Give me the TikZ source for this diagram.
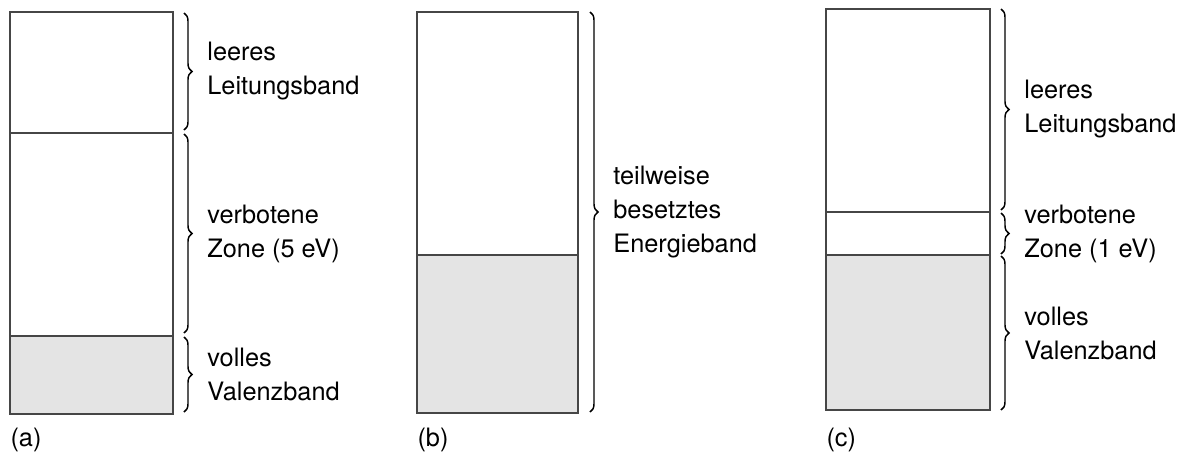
\documentclass[tikz,border=0pt]{standalone}
\usepackage{fontspec}
\setmainfont{TeX Gyre Heros}
\usetikzlibrary{decorations.pathreplacing,positioning}
\tikzset{
	band/.style={draw={rgb, 255:red, 70; green, 70; blue, 70 }, line width=0.9pt},
	bandfill/.style={fill={rgb, 255:red, 228; green, 228; blue, 228 }},
	bandbrace/.style={decorate, decoration={brace, amplitude=6pt}, line width=1.1pt},
	bandtext/.style={inner sep=0pt, align=left, font=\fontsize{19}{25.5}\selectfont},
	partname/.style={inner sep=0pt, anchor=west, font=\fontsize{19}{25.5}\selectfont}}
\tikzset{every picture/.style={line width=0.75pt}}

\begin{document}
\begin{tikzpicture}[x=0.75pt,y=0.75pt,yscale=-1,xscale=1]
	\useasboundingbox (0,0) rectangle (1186,454);

	%Shape: Band diagram (a)
	\fill [bandfill] (10,336) rectangle (173,414) ;
	\draw [band] (10,12) rectangle (173,414) ;
	\draw [band] (10,133) -- (173,133) ;
	\draw [band] (10,336) -- (173,336) ;
	%Braces (a)
	\draw [bandbrace] (184,13) -- (184,130) node [midway, bandtext, right=17pt] (a-cb) {leeres\\Leitungsband};
	\draw [bandbrace] (184,134) -- (184,333) node [midway, bandtext, right=17pt] (a-gap) {verbotene\\Zone (5 eV)};
	\draw [bandbrace] (184,337) -- (184,412) node [midway, bandtext, right=17pt] (a-vb) {volles\\Valenzband};

	%Shape: Band diagram (b)
	\fill [bandfill] (417,255) rectangle (578,413) ;
	\draw [band] (417,12) rectangle (578,413) ;
	\draw [band] (417,255) -- (578,255) ;
	%Brace (b)
	\draw [bandbrace] (590,12) -- (590,412) node [midway, bandtext, right=17pt] (b-band) {teilweise\\besetztes\\Energieband};

	%Shape: Band diagram (c)
	\fill [bandfill] (826,255) rectangle (990,410) ;
	\draw [band] (826,9) rectangle (990,410) ;
	\draw [band] (826,212) -- (990,212) ;
	\draw [band] (826,255) -- (990,255) ;
	%Braces (c)
	\draw [bandbrace] (1001,9) -- (1001,210) node [midway, bandtext, right=17pt] (c-cb) {leeres\\Leitungsband};
	\draw [bandbrace] (1001,213) -- (1001,254) node [midway, bandtext, right=17pt] (c-gap) {verbotene\\Zone (1 eV)};
	\draw [bandbrace] (1001,256) -- (1001,410) node [midway, bandtext, right=17pt] (c-vb) {volles\\Valenzband};

	% Text Node
	\node [partname] (a-name) at (10,440) {(a)};
	% Text Node
	\node [partname] (b-name) at (417,440) {(b)};
	% Text Node
	\node [partname] (c-name) at (826,440) {(c)};

\end{tikzpicture}
\end{document}
